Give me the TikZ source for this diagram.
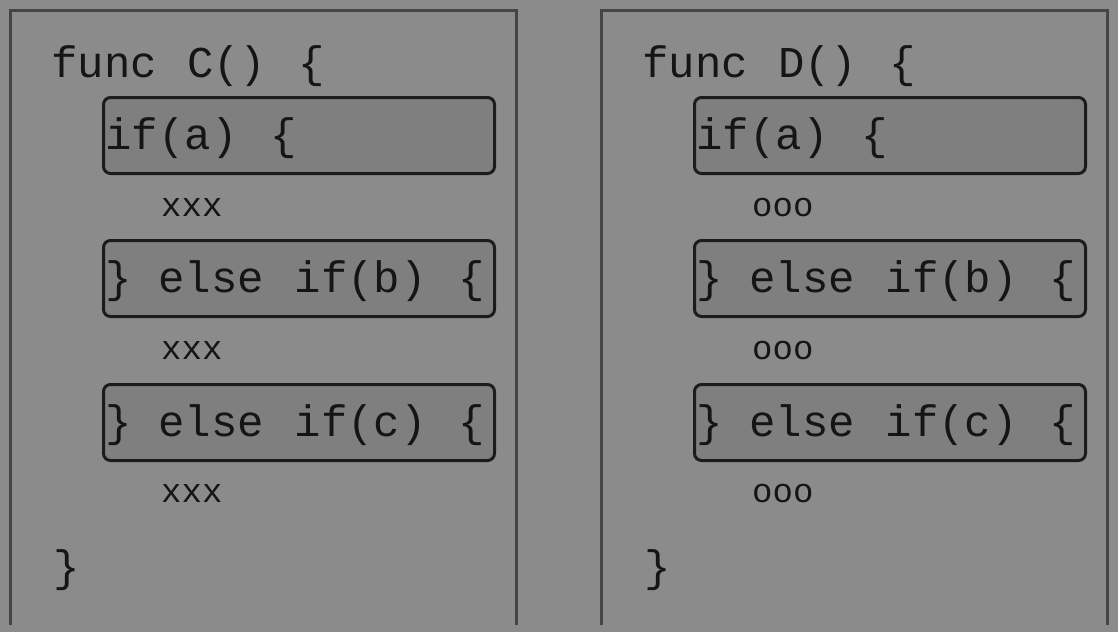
\documentclass[tikz,border=0pt]{standalone}
\usepackage{fontspec}
\setmonofont{Liberation Mono}
\definecolor{pagebg}{HTML}{8B8B8B}
\definecolor{panelline}{HTML}{454545}
\definecolor{boxfill}{HTML}{7F7F7F}
\definecolor{boxline}{HTML}{1C1C1C}
\definecolor{ink}{HTML}{151515}
% fixed-width gap between code tokens
\newcommand\gap[1][0.7em]{\hspace*{#1}}
\tikzset{
  panelframe/.style={draw=panelline, line width=3pt},
  codeline/.style={anchor=base west, inner sep=0pt, text=ink, font=\ttfamily\fontsize{44}{44}\selectfont},
  bodyline/.style={anchor=base west, inner sep=0pt, text=ink, font=\ttfamily\fontsize{34}{34}\selectfont},
  condbox/.style={draw=boxline, fill=boxfill, line width=3pt, rounded corners=7pt,
    anchor=north west, minimum width=391pt, minimum height=76pt,
    inner xsep=2pt, inner ysep=0pt, text width=387pt, align=left,
    text height=36pt, text depth=8pt, text=ink,
    font=\ttfamily\fontsize{44}{44}\selectfont},
}
% one function with an if / else-if chain; #1 name prefix, #2 x offset,
% #3 function letter, #4 body text
\newcommand\codepanel[4]{
  \begin{scope}[xshift=#2pt]
    \draw[panelframe] (10,625) -- (10,10) -- (516,10) -- (516,625);
    \node[codeline] (#1head) at (51,77) {func\gap[0.69em]#3()\gap[0.72em]\{};
    \node[condbox] (#1ifa) at (102,96) {if(a)\gap[0.75em]\{};
    \node[bodyline] (#1bodya) at (161,216) {#4};
    \node[condbox] (#1ifb) at (102,239) {\}\gap[0.6em]else\gap if(b)\gap[0.72em]\{};
    \node[bodyline] (#1bodyb) at (161,359) {#4};
    \node[condbox] (#1ifc) at (102,383) {\}\gap[0.6em]else\gap if(c)\gap[0.72em]\{};
    \node[bodyline] (#1bodyc) at (161,502) {#4};
    \node[codeline] (#1close) at (53,581) {\}};
  \end{scope}
}
\begin{document}
\begin{tikzpicture}[x=1pt, y=-1pt]
  \fill[pagebg] (0,0) rectangle (1118,632);
  \useasboundingbox (0,0) rectangle (1118,632);
  \codepanel{c}{0}{C}{xxx}
  \codepanel{d}{591}{D}{ooo}
\end{tikzpicture}
\end{document}
